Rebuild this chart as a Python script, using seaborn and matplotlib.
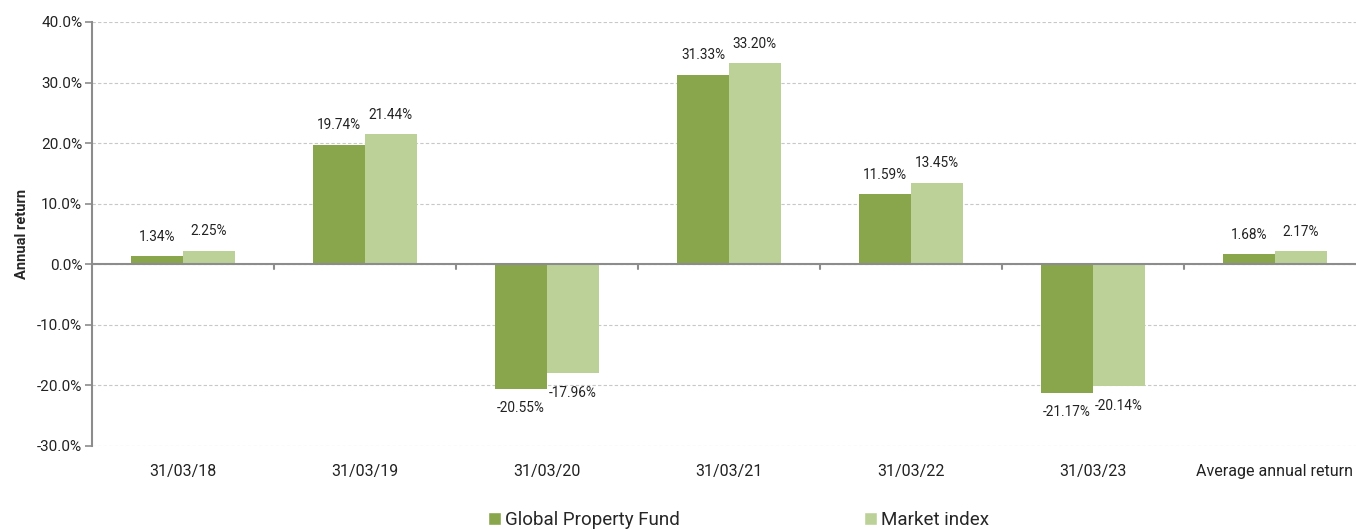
"""Annual returns: Global Property Fund vs market index."""

import pandas as pd
import seaborn as sns
import matplotlib.pyplot as plt
import matplotlib.transforms as mtransforms
from matplotlib.patches import Patch
from matplotlib.ticker import FuncFormatter


PERIODS = ['31/03/18', '31/03/19', '31/03/20', '31/03/21', '31/03/22', '31/03/23',
           'Average annual return']
FUND = [1.34, 19.74, -20.55, 31.33, 11.59, -21.17, 1.68]
INDEX = [2.25, 21.44, -17.96, 33.20, 13.45, -20.14, 2.17]
SERIES = ['Global Property Fund', 'Market index']
COLORS = ['#8aa64c', '#bcd197']


def main():
    sns.set_style('white')
    plt.rcParams['font.family'] = ['Roboto', 'DejaVu Sans']

    df = pd.DataFrame({
        'period': PERIODS * 2,
        'value': FUND + INDEX,
        'series': [SERIES[0]] * len(FUND) + [SERIES[1]] * len(INDEX),
    })

    fig = plt.figure(figsize = (13.56, 5.30), dpi = 100)
    ax = fig.add_axes([0.0678, 0.1585, 0.9395, 0.8])

    sns.barplot(
        data = df, x = 'period', y = 'value', hue = 'series',
        palette = COLORS, width = 0.57, ax = ax, saturation = 1,
        edgecolor = 'none', legend = False,
    )

    ax.set_ylim(-30, 40)
    ax.set_xlim(-0.5, len(PERIODS) - 0.5)
    ax.set_yticks(range(-30, 41, 10))
    ax.yaxis.set_major_formatter(FuncFormatter(lambda v, _: f'{v:.1f}%'))
    ax.yaxis.grid(True, linestyle = (0, (3, 2)), color = '#c8c8c8', linewidth = 0.8)
    ax.set_axisbelow(True)

    for side in ['top', 'right', 'bottom']:
        ax.spines[side].set_visible(False)
    ax.spines['left'].set_color('#8c8c8c')
    ax.spines['left'].set_linewidth(1.5)
    ax.tick_params(axis = 'y', length = 5, width = 1.2, color = '#8c8c8c', pad = 2,
                   labelsize = 11, labelcolor = '#222222', left = True)
    ax.tick_params(axis = 'x', length = 0, pad = 13, labelsize = 11.5,
                   labelcolor = '#222222')

    # zero line with category separators
    ax.axhline(0, color = '#8c8c8c', linewidth = 1.5, zorder = 3)
    trans = mtransforms.blended_transform_factory(ax.transData, ax.transData)
    for i in range(1, len(PERIODS)):
        ax.plot([i - 0.5, i - 0.5], [0, -0.8], color = '#8c8c8c', linewidth = 1.5,
                transform = trans, zorder = 3)

    ax.set_xlabel('')
    ax.set_ylabel('Annual return', fontsize = 10.5, fontweight = 'bold', labelpad = 6)

    for container in ax.containers:
        labels = [f'{b.get_height():.2f}%' for b in container]
        ax.bar_label(container, labels = labels, padding = 9, fontsize = 9.8,
                     color = '#222222')

    handles = [Patch(facecolor = c, label = s) for c, s in zip(COLORS, SERIES)]
    fig.legend(handles = handles, loc = 'lower center', ncol = 2,
               bbox_to_anchor = (0.5445, -0.03), frameon = False, fontsize = 13.5,
               handlelength = 0.7, handleheight = 0.7, handletextpad = 0.2,
               columnspacing = 9.8)

    fig.savefig('out.png', dpi = 100)
    plt.close(fig)


if __name__ == '__main__':
    main()
